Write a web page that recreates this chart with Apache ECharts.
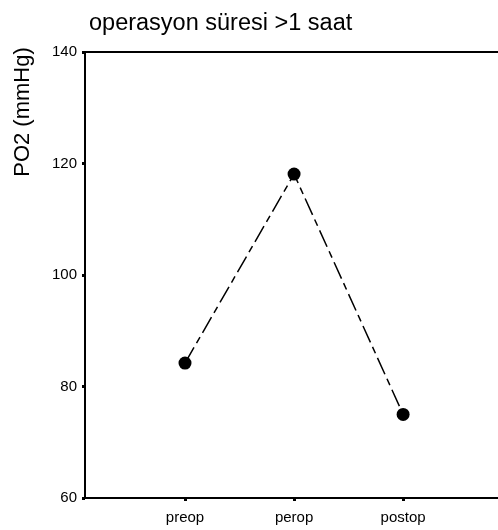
<!DOCTYPE html>
<html>
<head>
<meta charset="utf-8">
<script src="https://cdn.jsdelivr.net/npm/echarts@6/dist/echarts.min.js"></script>
<style>html,body{margin:0;padding:0;background:#fff}#c{width:498px;height:530px}</style>
</head>
<body>
<div id="c"></div>
<script>
var categories = ['preop', 'perop', 'postop'];
var po2Values = [84.2, 118.1, 75.0];
var yTicks = [60, 80, 100, 120, 140];
var titleText = 'operasyon süresi >1 saat';
var yAxisName = 'PO2 (mmHg)';

var positions = categories.map(function (c, i) { return i + 1; });
var seriesData = po2Values.map(function (v, i) { return [positions[i], v]; });
var font = 'Liberation Sans, Arial, sans-serif';

var chart = echarts.init(document.getElementById('c'), null, { renderer: 'canvas' });
chart.setOption({
  animation: false,
  backgroundColor: '#fff',
  title: {
    text: titleText,
    left: 84, top: 7,
    textStyle: { fontFamily: font, fontSize: 23.5, fontWeight: 'normal', color: '#000' }
  },
  graphic: [{
    type: 'text',
    x: 23, y: 112,
    rotation: Math.PI / 2,
    style: {
      text: yAxisName, fontFamily: font, fontSize: 22, fill: '#000',
      align: 'center', verticalAlign: 'middle'
    }
  }],
  grid: { left: 85, right: 0, top: 52, bottom: 32, containLabel: false },
  xAxis: [{
    type: 'value',
    min: 0.083, max: 3.87,
    axisLine: { show: true, onZero: false, lineStyle: { color: '#000', width: 2 } },
    axisTick: { show: true, customValues: positions, length: 3, lineStyle: { color: '#000', width: 3 } },
    axisLabel: {
      customValues: positions, margin: 12,
      fontFamily: font, fontSize: 15, color: '#000',
      formatter: function (v) { return categories[Math.round(v) - 1] || ''; }
    },
    splitLine: { show: false }
  }, {
    type: 'value', position: 'top',
    min: 0.083, max: 3.87,
    axisLine: { show: true, onZero: false, lineStyle: { color: '#000', width: 2 } },
    axisTick: { show: false }, axisLabel: { show: false }, splitLine: { show: false }
  }],
  yAxis: {
    type: 'value',
    min: yTicks[0], max: yTicks[yTicks.length - 1], interval: 20,
    axisLine: { show: true, onZero: false, lineStyle: { color: '#000', width: 2 } },
    axisTick: { show: true, length: 3, lineStyle: { color: '#000', width: 3 } },
    axisLabel: { margin: 8, fontFamily: font, fontSize: 15, color: '#000' },
    splitLine: { show: false }
  },
  series: [{
    type: 'line',
    data: seriesData,
    symbol: 'circle', symbolSize: 13,
    itemStyle: { color: '#000' },
    lineStyle: { color: '#000', width: 1.5, type: [18, 5, 7, 5] }
  }]
});
</script>
</body>
</html>
